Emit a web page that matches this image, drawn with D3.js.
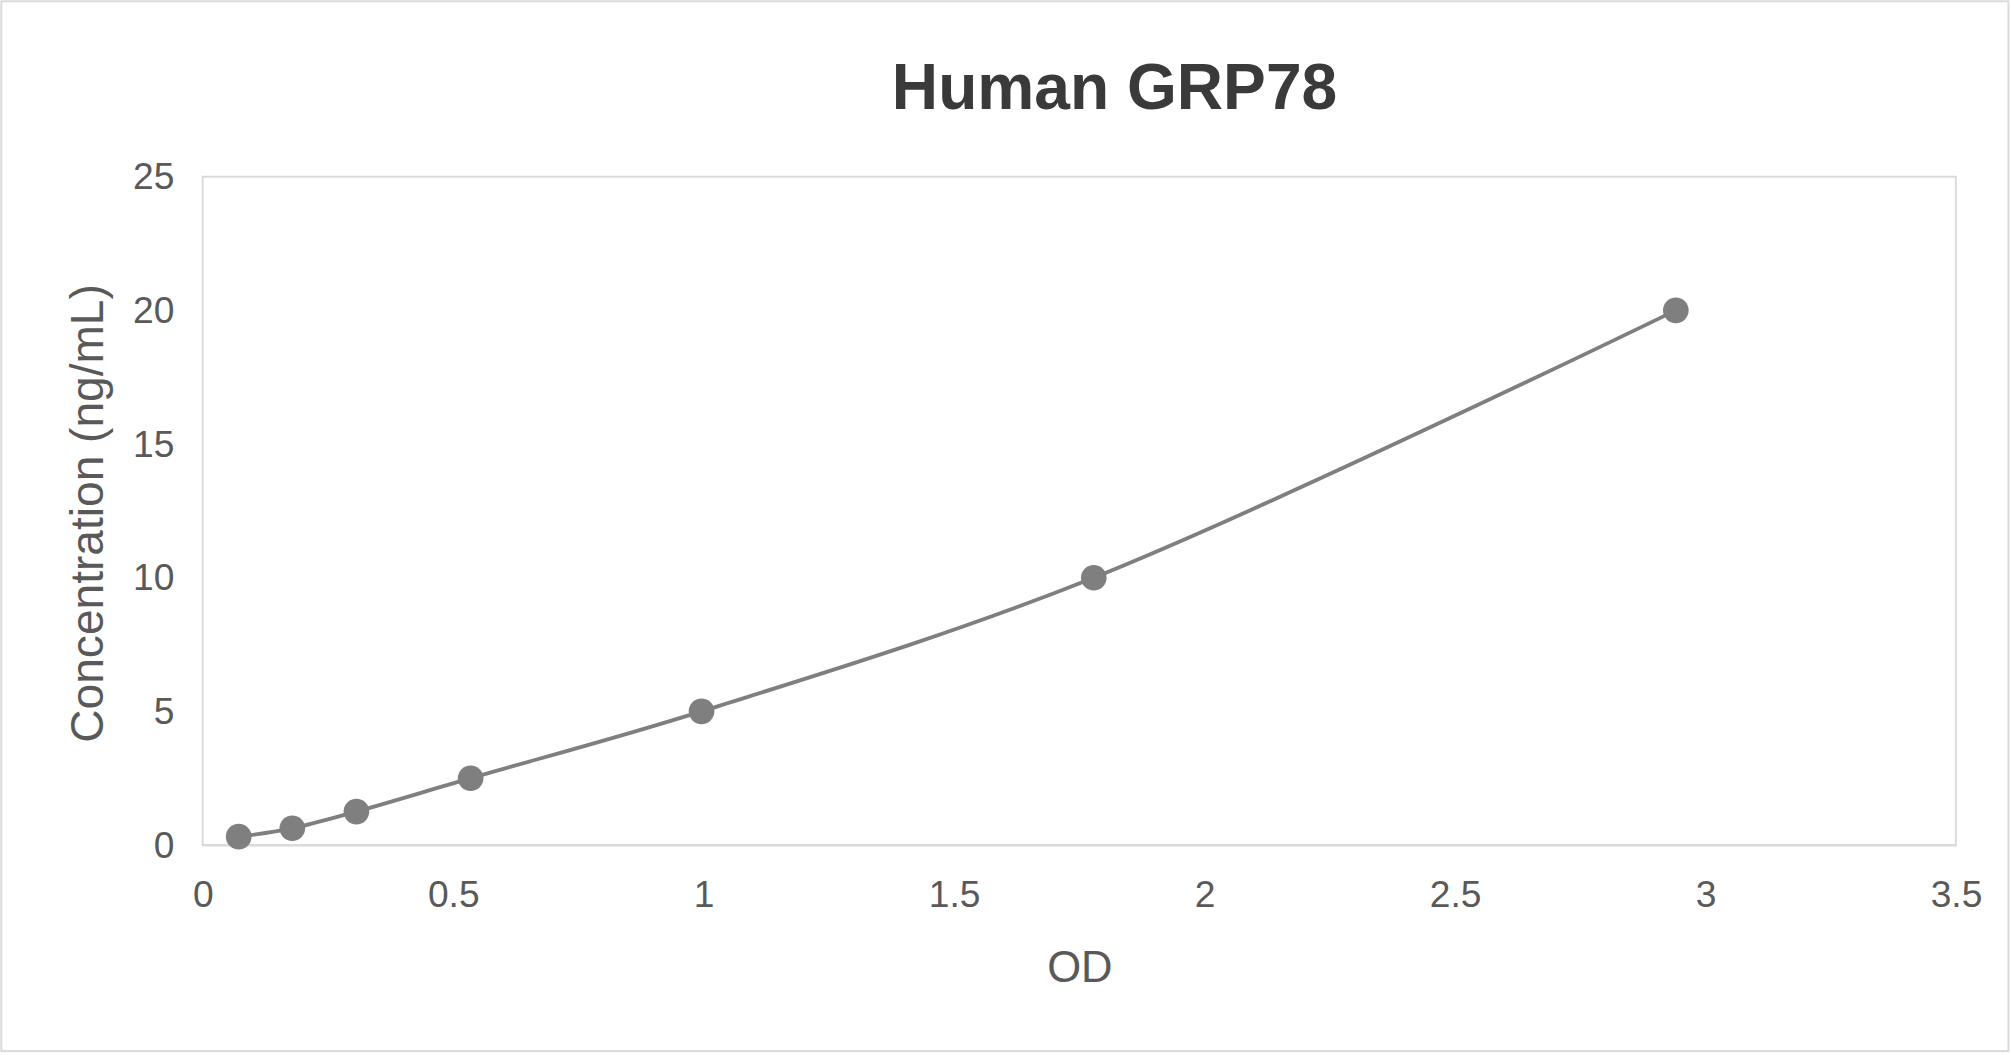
<!DOCTYPE html><html><head><meta charset="utf-8"><script src="https://cdn.jsdelivr.net/npm/d3@7"></script>
<style>body{margin:0;background:#fff}text{font-family:Arial,"Liberation Sans",sans-serif}</style></head><body>
<svg id="c" width="2011" height="1055" viewBox="0 0 1568 824" preserveAspectRatio="none"></svg>
<script>
const odValues=[0.072,0.179,0.307,0.535,0.996,1.779,2.941];
const concValues=[0.3125,0.625,1.25,2.5,5,10,20];
const xTicks=[0,0.5,1,1.5,2,2.5,3,3.5];
const yTicks=[0,5,10,15,20,25];
const svg=d3.select("#c");
svg.append("rect").attr("x",1).attr("y",1).attr("width",1565).attr("height",820).attr("fill","#fff").attr("stroke","#d9d9d9").attr("stroke-width",1.5);
const x=d3.scaleLinear().domain([0,3.5]).range([158,1525]);
const y=d3.scaleLinear().domain([0,25]).range([660,138]);
svg.append("rect").attr("x",158).attr("y",138).attr("width",1367).attr("height",522).attr("fill","none").attr("stroke","#d9d9d9").attr("stroke-width",1.5);
const ga=svg.append("g").attr("transform","translate(0,660)").call(d3.axisBottom(x).tickValues(xTicks).tickSize(0).tickPadding(28).tickFormat(d=>d));
ga.select(".domain").attr("stroke","#d9d9d9").attr("stroke-width",1.5);
ga.selectAll("text").attr("font-size",29).attr("fill","#595959").attr("font-family","Arial,Liberation Sans");
const gy=svg.append("g").attr("transform","translate(158,0)").call(d3.axisLeft(y).tickValues(yTicks).tickSize(0).tickPadding(22));
gy.select(".domain").remove();
gy.selectAll("text").attr("font-size",29).attr("fill","#595959").attr("font-family","Arial,Liberation Sans");
const pts=odValues.map((v,i)=>[v,concValues[i]]);
svg.append("path").attr("d",d3.line().x(d=>x(d[0])).y(d=>y(d[1])).curve(d3.curveCatmullRom)(pts)).attr("fill","none").attr("stroke","#7f7f7f").attr("stroke-width",3);
svg.selectAll("circle").data(pts).join("circle").attr("cx",d=>x(d[0])).attr("cy",d=>y(d[1])).attr("r",10).attr("fill","#7f7f7f");
svg.append("text").attr("x",869).attr("y",85).attr("text-anchor","middle").attr("font-size",50).attr("font-weight","bold").attr("fill","#3a3a3a").text("Human GRP78");
svg.append("text").attr("x",842).attr("y",767).attr("text-anchor","middle").attr("font-size",34).attr("fill","#595959").text("OD");
svg.append("text").attr("transform","translate(80,401) rotate(-90)").attr("text-anchor","middle").attr("font-size",36).attr("fill","#595959").text("Concentration (ng/mL)");
</script></body></html>
